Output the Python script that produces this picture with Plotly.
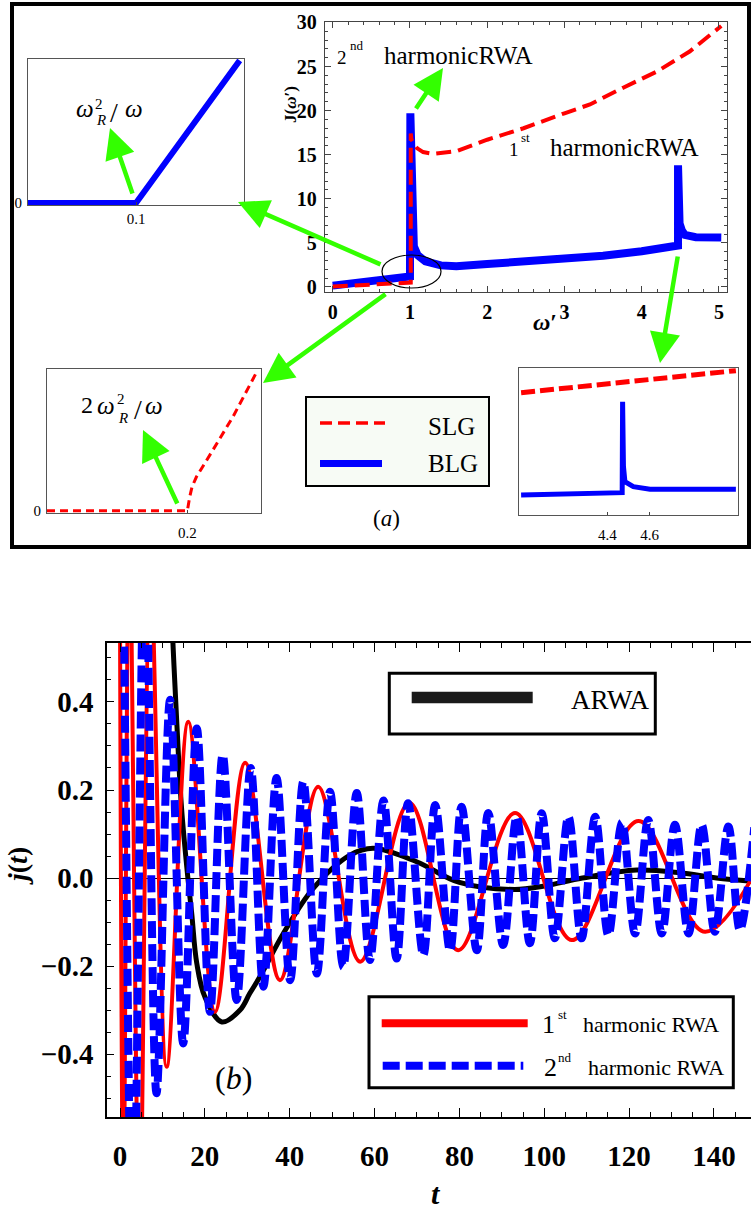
import plotly.graph_objects as go

W, H = 751, 1218
SERIF = "Liberation Serif, Times New Roman, serif"

# ---------------- Panel (a) data: J(omega') ----------------
slg_w = [0.0, 0.5, 0.94, 1.01, 1.01, 1.02, 1.09, 1.17, 1.3, 1.6, 2.0, 2.47, 3.0, 3.33, 3.76, 4.19, 4.62, 5.03]
slg_J = [0.05, 0.25, 0.45, 0.5, 17.4, 16.7, 15.75, 15.3, 15.1, 15.4, 16.7, 18.0, 19.7, 20.7, 22.6, 24.4, 26.7, 29.6]

blg_w = [0.0, 0.5, 0.99, 1.0, 1.005, 1.02, 1.05, 1.1, 1.2, 1.4, 1.6, 2.0, 2.5, 3.0, 3.5, 4.0, 4.41, 4.47, 4.47,
         4.49, 4.52, 4.56, 4.7, 4.84, 5.03]
blg_J = [0.15, 0.6, 1.15, 1.2, 19.7, 8.0, 4.6, 3.6, 2.9, 2.45, 2.34, 2.6, 2.9, 3.2, 3.55, 4.05, 4.6, 4.7, 13.8,
         7.2, 6.4, 5.9, 5.65, 5.55, 5.6]

# inset near omega'=1 (BLG): omega_R^2/omega
in1_x = [0.0, 0.1, 0.196]
in1_y = [0.0, 0.0, 0.99]
# inset near omega'=1 (SLG): 2 omega_R^2/omega
in2_x = [0.0, 0.2, 0.2035, 0.2067, 0.213, 0.222, 0.2366, 0.265, 0.299]
in2_y = [0.0, 0.0, 0.1, 0.169, 0.24, 0.31, 0.43, 0.663, 0.98]
# inset near omega'=4.47
in3_slg_x = [3.99, 4.5, 5.01]
in3_slg_y = [8.32, 9.07, 9.82]
in3_blg_x = [3.99, 4.3, 4.47, 4.472, 4.476, 4.483, 4.523, 4.602, 4.8, 5.01]
in3_blg_y = [1.36, 1.45, 1.52, 7.7, 3.3, 2.27, 1.93, 1.75, 1.74, 1.75]

# ---------------- Panel (b) data: j(t) ----------------
rwa1_t = [0.0, 0.8, 2.2, 4.6, 7.2, 11.0, 16.1, 22.4, 29.5, 37.7, 46.7, 56.6, 68.2, 79.7, 93.1, 106.5, 122.2, 137.9, 155.0]
rwa1_j = [0.6, -0.75, 0.8, -0.8, 0.7, -0.429, 0.355, -0.304, 0.262, -0.232, 0.2075, -0.19, 0.171, -0.164, 0.148,
          -0.141, 0.1295, -0.122, 0.115]

rwa2_t = [0.0, 0.4, 3.0, 5.9, 8.6, 11.8, 14.9, 18.1, 21.2, 24.2, 27.5, 30.8, 33.8, 36.9, 40.1, 43.2, 46.4, 49.5,
          52.6, 55.8, 58.9, 62.1, 65.2, 67.9, 71.5, 74.3, 77.8, 80.5, 84.1, 86.8, 90.3, 93.5, 96.6, 99.4, 102.5,
          105.7, 108.8, 112.0, 115.1, 118.3, 121.4, 124.5, 127.7, 130.8, 134.0, 137.1, 140.2, 143.4, 146.1, 149.5]
rwa2_j = [0.7, 0.9, -0.9, 0.8, -0.489, 0.405, -0.376, 0.34, -0.304, 0.28, -0.277, 0.25, -0.247, 0.227, -0.232,
          0.219, -0.217, 0.196, -0.202, 0.193, -0.186, 0.176, -0.183, 0.17, -0.175, 0.166, -0.165, 0.162, -0.164,
          0.148, -0.152, 0.139, -0.148, 0.147, -0.137, 0.139, -0.137, 0.139, -0.13, 0.126, -0.126, 0.132, -0.126,
          0.121, -0.126, 0.121, -0.122, 0.117, -0.118, 0.115]

arwa_t = [11.5, 12.4, 13.4, 14.5, 16.0, 16.9, 18.1, 20.0, 24.0, 28.3, 30.6, 33.0, 38.5, 45.6, 54.2, 59.7, 69.9,
          80.0, 93.0, 100.0, 109.0, 121.8, 132.0, 140.6, 150.0]
arwa_j = [0.75, 0.55, 0.35, 0.16, 0.0, -0.08, -0.194, -0.27, -0.327, -0.3, -0.262, -0.224, -0.126, -0.023, 0.052,
          0.0675, 0.037, -0.01, -0.026, -0.018, 0.0, 0.018, 0.012, 0.0, -0.008]

t_ticks = [0, 20, 40, 60, 80, 100, 120, 140]
j_ticks = [-0.4, -0.2, 0.0, 0.2, 0.4]
j_tick_text = ["\u22120.4", "\u22120.2", "0.0", "0.2", "0.4"]


def px(x):
    return x / W


def py(y):
    return 1 - y / H


fig = go.Figure()

# panel (a) main
fig.add_trace(go.Scatter(x=blg_w, y=blg_J, mode="lines", line=dict(color="#0000ff", width=8),
                         xaxis="x", yaxis="y", showlegend=False))
fig.add_trace(go.Scatter(x=slg_w, y=slg_J, mode="lines", line=dict(color="#ff0000", width=4, dash="15px,7px"),
                         xaxis="x", yaxis="y", showlegend=False))
# insets
fig.add_trace(go.Scatter(x=in1_x, y=in1_y, mode="lines", line=dict(color="#0000ff", width=6),
                         xaxis="x2", yaxis="y2", showlegend=False))
fig.add_trace(go.Scatter(x=in2_x, y=in2_y, mode="lines", line=dict(color="#ff0000", width=3, dash="8px,5px"),
                         xaxis="x3", yaxis="y3", showlegend=False))
fig.add_trace(go.Scatter(x=in3_slg_x, y=in3_slg_y, mode="lines", line=dict(color="#ff0000", width=5, dash="14px,5px"),
                         xaxis="x4", yaxis="y4", showlegend=False))
fig.add_trace(go.Scatter(x=in3_blg_x, y=in3_blg_y, mode="lines", line=dict(color="#0000ff", width=5),
                         xaxis="x4", yaxis="y4", showlegend=False))
# panel (b)
fig.add_trace(go.Scatter(x=arwa_t, y=arwa_j, mode="lines", line=dict(color="#000000", width=5, shape="spline", smoothing=1.0),
                         xaxis="x5", yaxis="y5", showlegend=False))
fig.add_trace(go.Scatter(x=rwa1_t, y=rwa1_j, mode="lines", line=dict(color="#ff0000", width=4, shape="spline", smoothing=1.0),
                         xaxis="x5", yaxis="y5", showlegend=False))
fig.add_trace(go.Scatter(x=rwa2_t, y=rwa2_j, mode="lines",
                         line=dict(color="#0000ff", width=8, dash="17px,6px", shape="spline", smoothing=1.0),
                         xaxis="x5", yaxis="y5", showlegend=False))

tickfont_a = dict(family=SERIF, size=20, color="black", weight="bold")
tickfont_b = dict(family=SERIF, size=29, color="black", weight="bold")
tickfont_in = dict(family=SERIF, size=15, color="black")

fig.update_layout(
    width=W, height=H, autosize=False,
    margin=dict(l=0, r=0, t=0, b=0, pad=0, autoexpand=False),
    paper_bgcolor="white", plot_bgcolor="rgba(0,0,0,0)",
    xaxis=dict(domain=[px(325), px(727)], range=[-0.1, 5.104], anchor="y", automargin=False,
               showline=True, linecolor="#444", linewidth=1.3, mirror="allticks",
               ticks="inside", ticklen=6, tickcolor="#444", dtick=1, tick0=0,
               minor=dict(dtick=0.2, ticklen=3, ticks="inside", tickcolor="#444"),
               showgrid=False, zeroline=False, tickfont=tickfont_a, ticklabelstandoff=2),
    yaxis=dict(domain=[py(292), py(22)], range=[-0.57, 30.05], anchor="x", automargin=False,
               showline=True, linecolor="#444", linewidth=1.3, mirror="allticks",
               ticks="inside", ticklen=6, tickcolor="#444", dtick=5, tick0=0,
               minor=dict(dtick=1, ticklen=3, ticks="inside", tickcolor="#444"),
               showgrid=False, zeroline=False, tickfont=tickfont_a, ticklabelstandoff=3),
    xaxis2=dict(domain=[px(28), px(244)], range=[0, 0.2], anchor="y2", automargin=False,
                showline=True, linecolor="#555", linewidth=1, mirror=True,
                ticks="inside", ticklen=3, tickvals=[0.1], ticktext=["0.1"],
                showgrid=False, zeroline=False, tickfont=tickfont_in, ticklabelstandoff=0),
    yaxis2=dict(domain=[py(205), py(59)], range=[-0.014, 1.0], anchor="x2", automargin=False,
                showline=True, linecolor="#555", linewidth=1, mirror=True,
                ticks="", tickvals=[0], ticktext=["0"],
                showgrid=False, zeroline=False, tickfont=tickfont_in, ticklabelstandoff=2),
    xaxis3=dict(domain=[px(47), px(261)], range=[0, 0.305], anchor="y3", automargin=False,
                showline=True, linecolor="#555", linewidth=1, mirror=True,
                ticks="inside", ticklen=3, tickvals=[0.2], ticktext=["0.2"],
                showgrid=False, zeroline=False, tickfont=tickfont_in, ticklabelstandoff=6),
    yaxis3=dict(domain=[py(513), py(369)], range=[-0.015, 1.0], anchor="x3", automargin=False,
                showline=True, linecolor="#555", linewidth=1, mirror=True,
                ticks="", tickvals=[0], ticktext=["0"],
                showgrid=False, zeroline=False, tickfont=tickfont_in, ticklabelstandoff=2),
    xaxis4=dict(domain=[px(519), px(738)], range=[3.98, 5.02], anchor="y4", automargin=False,
                showline=True, linecolor="#555", linewidth=1, mirror=True,
                ticks="inside", ticklen=3, tickvals=[4.4, 4.6], ticktext=["4.4", "4.6"],
                showgrid=False, zeroline=False, tickfont=tickfont_in, ticklabelstandoff=6),
    yaxis4=dict(domain=[py(515), py(368)], range=[0, 10], anchor="x4", automargin=False,
                showline=True, linecolor="#555", linewidth=1, mirror=True,
                ticks="", showticklabels=False,
                showgrid=False, zeroline=False),
    xaxis5=dict(domain=[px(107), 1.0], range=[-3.064, 148.73], anchor="y5", automargin=False,
                showline=True, linecolor="black", linewidth=1.5, mirror="allticks",
                ticks="inside", ticklen=9, tickcolor="black", tickvals=t_ticks,
                minor=dict(dtick=5, tick0=0, ticklen=5, ticks="inside", tickcolor="black"),
                showgrid=False, zeroline=False, tickfont=tickfont_b, ticklabelstandoff=12),
    yaxis5=dict(domain=[py(1117), py(643)], range=[-0.543, 0.534], anchor="x5", automargin=False,
                showline=True, linecolor="black", linewidth=1.5, mirror=False,
                ticks="inside", ticklen=7, tickcolor="black", tickvals=j_ticks, ticktext=j_tick_text,
                minor=dict(dtick=0.05, tick0=0, ticklen=4, ticks="inside", tickcolor="black"),
                showgrid=False, zeroline=True, zerolinecolor="black", zerolinewidth=1,
                tickfont=tickfont_b, ticklabelstandoff=6),
)

shapes = []
# outer frame of panel (a)
shapes.append(dict(type="rect", xref="paper", yref="paper", x0=px(12), x1=px(749), y0=py(547), y1=py(4),
                   line=dict(color="black", width=4), fillcolor="rgba(0,0,0,0)", layer="above"))
# ellipse
shapes.append(dict(type="circle", xref="paper", yref="paper", x0=px(382), x1=px(441), y0=py(288), y1=py(255),
                   line=dict(color="black", width=1.2), layer="above"))
# legend (a)
shapes.append(dict(type="rect", xref="paper", yref="paper", x0=px(306), x1=px(489), y0=py(486), y1=py(397),
                   line=dict(color="black", width=2), fillcolor="#f7fbf5", layer="above"))
shapes.append(dict(type="line", xref="paper", yref="paper", x0=px(320), x1=px(385), y0=py(423), y1=py(423),
                   line=dict(color="#ff0000", width=3.5, dash="12px,6px"), layer="above"))
shapes.append(dict(type="line", xref="paper", yref="paper", x0=px(320), x1=px(382), y0=py(463.5), y1=py(463.5),
                   line=dict(color="#0000ff", width=7), layer="above"))
# legend (b) ARWA
shapes.append(dict(type="rect", xref="paper", yref="paper", x0=px(389.3), x1=px(655.3), y0=py(734), y1=py(673.3),
                   line=dict(color="black", width=3), fillcolor="white", layer="above"))
shapes.append(dict(type="line", xref="paper", yref="paper", x0=px(411.7), x1=px(532.7), y0=py(697.5), y1=py(697.5),
                   line=dict(color="#1a1a1a", width=11.5), layer="above"))
# legend (b) harmonics
shapes.append(dict(type="rect", xref="paper", yref="paper", x0=px(369), x1=px(733.3), y0=py(1087.7), y1=py(996.7),
                   line=dict(color="black", width=3), fillcolor="white", layer="above"))
shapes.append(dict(type="line", xref="paper", yref="paper", x0=px(381.7), x1=px(527.7), y0=py(1023.3), y1=py(1023.3),
                   line=dict(color="#ff0000", width=8), layer="above"))
shapes.append(dict(type="line", xref="paper", yref="paper", x0=px(382.7), x1=px(523.3), y0=py(1065.8), y1=py(1065.8),
                   line=dict(color="#0000ff", width=8, dash="17px,6px"), layer="above"))
fig.update_layout(shapes=shapes)

anns = []


def txt(text, x, y, size, italic=False, bold=False, angle=0, xanchor="center"):
    f = dict(family=SERIF, size=size, color="black")
    if italic:
        f["style"] = "italic"
    if bold:
        f["weight"] = "bold"
    anns.append(dict(text=text, x=px(x), y=py(y), xref="paper", yref="paper", showarrow=False,
                     font=f, xanchor=xanchor, yanchor="middle", textangle=angle))


def arrow(hx, hy, tx, ty):
    anns.append(dict(text="", x=px(hx), y=py(hy), xref="paper", yref="paper", showarrow=True,
                     ax=tx - hx, ay=ty - hy, axref="pixel", ayref="pixel",
                     arrowcolor="#33ff00", arrowwidth=4.5, arrowhead=2, arrowsize=1.35))


# panel (a) texts
txt("2", 342, 57, 19)
txt("nd", 357, 45, 13)
txt("harmonicRWA", 458.5, 56, 25)
txt("1", 514, 149, 19)
txt("st", 525, 138, 13)
txt("harmonicRWA", 624, 147, 25)
txt("<b><i>\u03c9</i>\u2032</b>", 545, 322, 24)
txt("<b>J(<i>\u03c9</i>\u2032)</b>", 290, 105, 17, angle=-90)
# inset formula 1
txt("\u03c9", 84.5, 108, 25, italic=True)
txt("2", 99, 104, 15)
txt("R", 101, 120, 15, italic=True)
txt("/", 114, 112, 28)
txt("\u03c9", 134, 108, 25, italic=True)
# inset formula 2
txt("2", 87, 405, 24)
txt("\u03c9", 106, 406, 25, italic=True)
txt("2", 120.5, 399, 15)
txt("R", 123, 418, 15, italic=True)
txt("/", 137.5, 409, 28)
txt("\u03c9", 154, 406, 25, italic=True)
# legend (a)
txt("SLG", 451, 426, 25)
txt("BLG", 453, 463, 25)
txt("(<i>a</i>)", 386, 518, 23)
# panel (b)
txt("ARWA", 610, 700, 27)
txt("1", 548, 1024, 26)
txt("st", 562.5, 1014, 13)
txt("harmonic RWA", 650.8, 1024, 22)
txt("2", 550, 1067, 26)
txt("nd", 564.5, 1057, 13)
txt("harmonic RWA", 655.8, 1067, 22)
txt("(<i>b</i>)", 233, 1078, 32)
txt("<b><i>j</i>(<i>t</i>)</b>", 17, 866, 28, angle=-90)
txt("<b><i>t</i></b>", 436, 1193, 30)

# green arrows
arrow(110, 128, 133, 195)
arrow(238, 202, 382, 265)
arrow(263, 383, 387, 293)
arrow(660, 363, 678, 255)
arrow(443, 68, 415, 110)
arrow(143, 430, 178, 505)

fig.update_layout(annotations=anns)

fig.write_html("out.html", config={"displayModeBar": False})
